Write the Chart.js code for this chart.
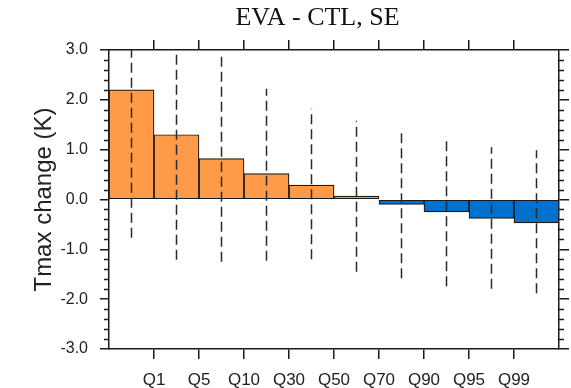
<!DOCTYPE html>
<html><head><meta charset="utf-8">
<script src="https://cdn.jsdelivr.net/npm/chart.js@4/dist/chart.umd.min.js"></script>
<style>html,body{margin:0;padding:0;background:#fff}#wrap{width:571px;height:388px}</style>
</head><body><div id="wrap"><canvas id="c" width="571" height="388"></canvas></div>
<script>
const chartTitle = 'EVA - CTL, SE';
const yAxisTitle = 'Tmax change (K)';
const tickLabels = ['Q1', 'Q5', 'Q10', 'Q30', 'Q50', 'Q70', 'Q90', 'Q95', 'Q99'];
const barValues = [2.20, 1.30, 0.82, 0.52, 0.29, 0.07, -0.10, -0.25, -0.38, -0.47];
const errLow  = [-0.77, -1.21, -1.25, -1.23, -1.20, -1.45, -1.58, -1.74, -1.79, -1.88];
const errHigh = [3.00, 3.00, 2.89, 2.22, 1.82, 1.58, 1.36, 1.21, 1.05, 0.99];
const yMin = -3, yMax = 3, yMinorStep = 0.2;

const ORANGE = '#FF9B48', BLUE = '#0072CE', INK = '#1a1a1a';
const SANS = "'Liberation Sans', Arial, Helvetica, sans-serif";

const barData = barValues.map((v, i) => ({x: i + 0.5, y: v}));
const errData = [];
errLow.forEach((lo, i) => {
  errData.push({x: i + 0.5, y: lo}, {x: i + 0.5, y: errHigh[i]}, {x: i + 0.5, y: null});
});

const xTickBuilder = s => { s.ticks = tickLabels.map((_, i) => ({value: i + 1})); };
const gridOpts = (len) => ({drawOnChartArea: false, tickLength: len, color: INK, lineWidth: 1.5, offset: false});
const borderOpts = {display: true, color: INK, width: 1.5};

const extras = {
  id: 'extras',
  afterDraw(chart) {
    const ctx = chart.ctx, ca = chart.chartArea, y = chart.scales.y;
    ctx.save();
    ctx.strokeStyle = INK;
    ctx.lineWidth = 1.3;
    const n = Math.round((yMax - yMin) / yMinorStep);
    for (let k = 0; k <= n; k++) {
      const v = yMin + k * yMinorStep;
      if (Math.abs(v - Math.round(v)) < 1e-6) continue;
      const py = Math.round(y.getPixelForValue(v)) + 0.5;
      ctx.beginPath();
      ctx.moveTo(ca.left, py); ctx.lineTo(ca.left - 5, py);
      ctx.moveTo(ca.right, py); ctx.lineTo(ca.right + 5, py);
      ctx.stroke();
    }
    ctx.fillStyle = '#111';
    ctx.font = "26px 'Liberation Serif', 'Times New Roman', serif";
    ctx.textAlign = 'center';
    ctx.textBaseline = 'alphabetic';
    ctx.fillText(chartTitle, 317.5, 25);
    ctx.restore();
  }
};

new Chart(document.getElementById('c'), {
  type: 'bar',
  data: {
    datasets: [
      {
        type: 'line', data: errData, order: 0,
        borderColor: '#2a2a2a', borderWidth: 1.5, borderDash: [10, 5],
        pointRadius: 0, spanGaps: false, fill: false, xAxisID: 'x', yAxisID: 'y'
      },
      {
        type: 'bar', data: barData, order: 1,
        backgroundColor: barValues.map(v => v >= 0 ? ORANGE : BLUE),
        borderColor: INK, borderWidth: 1.2, borderSkipped: false,
        barPercentage: 1, categoryPercentage: 1, xAxisID: 'x', yAxisID: 'y'
      }
    ]
  },
  options: {
    responsive: false, animation: false, devicePixelRatio: 1,
    layout: {padding: 0},
    plugins: {legend: {display: false}, title: {display: false}, tooltip: {enabled: false}},
    scales: {
      x: {
        type: 'linear', position: 'bottom', min: 0, max: 10, offset: false,
        afterBuildTicks: xTickBuilder,
        afterFit: s => { s.height = 39; },
        ticks: {callback: v => tickLabels[Math.round(v) - 1] ?? '', autoSkip: false, maxRotation: 0,
                padding: 11, color: '#222', font: {family: SANS, size: 17}},
        grid: gridOpts(10), border: borderOpts
      },
      x2: {
        type: 'linear', position: 'top', min: 0, max: 10, offset: false,
        afterBuildTicks: xTickBuilder,
        afterFit: s => { s.height = 50; },
        ticks: {display: false},
        grid: gridOpts(10), border: borderOpts
      },
      y: {
        type: 'linear', position: 'left', min: yMin, max: yMax,
        afterFit: s => { s.width = 109; },
        ticks: {stepSize: 1, callback: v => Number(v).toFixed(1), padding: 12, color: '#222',
                font: {family: SANS, size: 16}},
        grid: gridOpts(9), border: borderOpts,
        title: {display: true, text: yAxisTitle, color: '#222', font: {family: SANS, size: 24},
                padding: {top: 30, bottom: 0}}
      },
      y2: {
        type: 'linear', position: 'right', min: yMin, max: yMax,
        afterFit: s => { s.width = 12; },
        ticks: {stepSize: 1, display: false},
        grid: gridOpts(10), border: borderOpts
      }
    }
  },
  plugins: [extras]
});
</script>
</body></html>
